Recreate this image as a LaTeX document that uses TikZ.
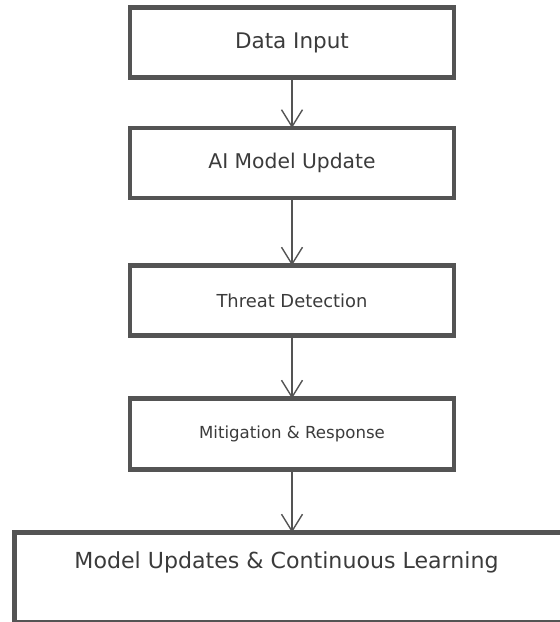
\documentclass[tikz,border=0pt]{standalone}
\usepackage{fontspec}
\setmainfont{DejaVu Sans}
\usepackage{tikz}
\usetikzlibrary{positioning}
\usetikzlibrary{calc}
\usetikzlibrary{arrows.meta}
\colorlet{stagegray}{black!67}
\colorlet{labelgray}{black!77}

\begin{document}
\begin{tikzpicture}[x=1pt, y=1pt,
        stage/.style={draw=stagegray, line width=4.5pt, outer sep=0pt, inner sep=0pt,
            minimum width=324pt, minimum height=70pt, text=labelgray},
        flow/.style={draw=stagegray, line width=1.4pt, -{Straight Barb[length=17pt, width=21pt]}}]
            \useasboundingbox (0,0) rectangle (560,-622);
            \clip (0,0) rectangle (560,-622);

            \node [stage, font=\fontsize{21.5pt}{26pt}\selectfont]
                (data) at (292,-42.5)
                {Data Input};
            \node [stage, font=\fontsize{20.3pt}{24pt}\selectfont, below=50.5pt of data]
                (model)
                {AI Model Update};
            \node [stage, font=\fontsize{17.9pt}{22pt}\selectfont, below=67.5pt of model]
                (threat)
                {Threat Detection};
            \node [stage, font=\fontsize{16.6pt}{20pt}\selectfont, minimum height=71pt, below=63pt of threat]
                (mitig)
                {Mitigation \& Response};

            \node [stage, anchor=north west, minimum width=600pt, minimum height=89.5pt]
                (learn) at (14.5,-532.5)
                {};
            \node [text=labelgray, font=\fontsize{22.1pt}{26pt}\selectfont, inner sep=0pt]
                (learntext) at ($(learn.north west)+(272,-29.5)$)
                {Model Updates \& Continuous Learning};

            \draw [flow] (data) -- (model);
            \draw [flow] (model) -- (threat);
            \draw [flow] (threat) -- (mitig);
            \draw [flow] (mitig) -- (mitig |- learn.north);
\end{tikzpicture}
\end{document}
